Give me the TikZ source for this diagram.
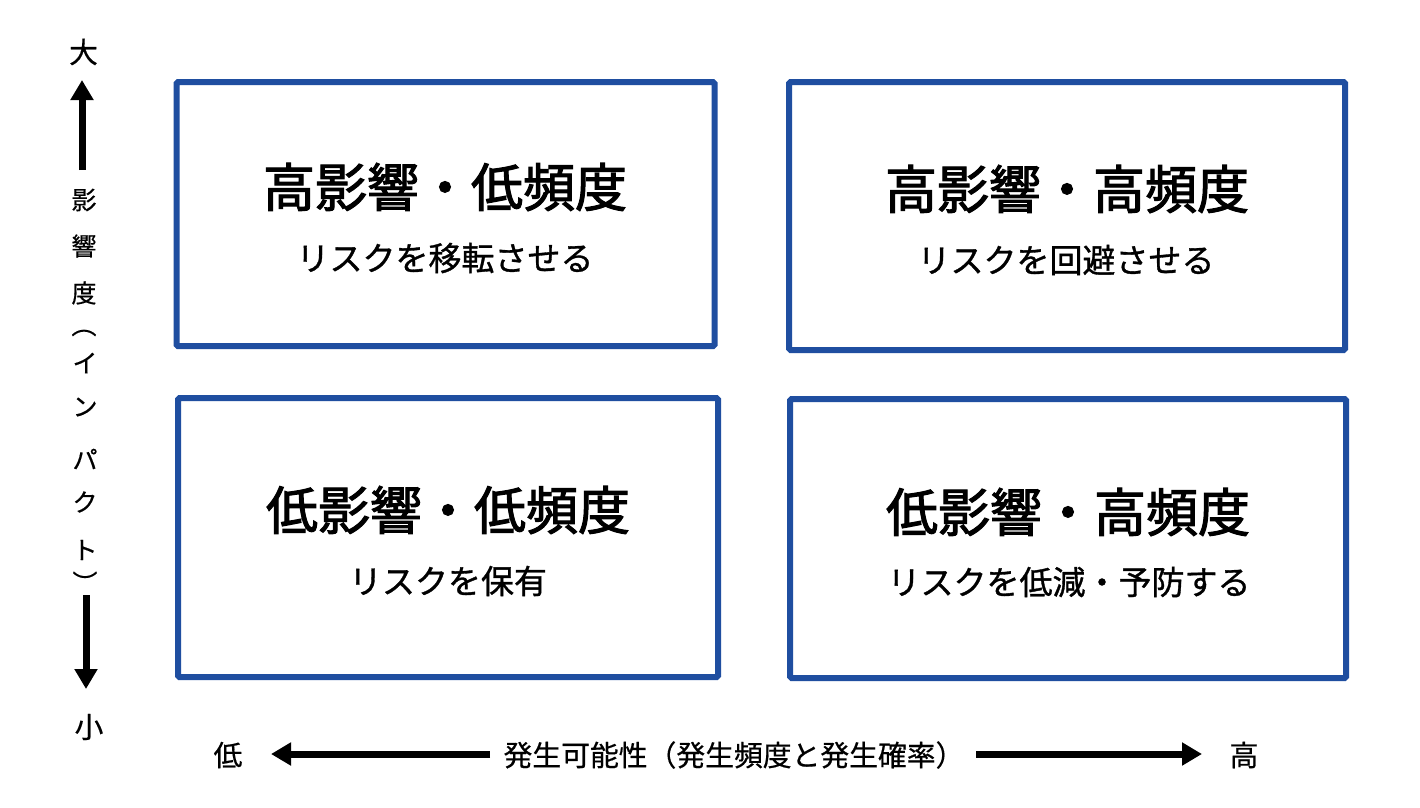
\documentclass[tikz,border=0pt]{standalone}
\usepackage{fontspec}
\setmainfont{Noto Sans CJK JP}
\newfontfamily\medfont[FakeBold=1]{Noto Sans CJK JP}
\newfontfamily\lightmed[FakeBold=0.5]{Noto Sans CJK JP}
\newfontfamily\titlefont[FakeBold=2]{Noto Sans CJK JP}
\usetikzlibrary{arrows.meta}
\definecolor{boxblue}{RGB}{31,78,160}
\begin{document}
\begin{tikzpicture}[x=1pt,y=-1pt,
  quad/.style={draw=boxblue, line width=6pt, rounded corners=1.5pt, inner sep=0pt, outer sep=0pt},
  title/.style={font=\fontsize{52}{52}\selectfont\titlefont, inner sep=0pt},
  sub/.style={font=\fontsize{33}{33}\selectfont\medfont, inner sep=0pt},
  axl/.style={font=\fontsize{28.8}{29}\selectfont\lightmed, inner sep=0pt},
  vch/.style={font=\fontsize{25}{25}\selectfont\lightmed, inner sep=0pt},
  bigarrow/.style={line width=7pt, -{Triangle[width=22pt,length=20pt]}}]
\useasboundingbox (0,0) rectangle (1420,807);
\fill[white] (0,0) rectangle (1420,807);
% quadrants
\node[quad, minimum width=538pt, minimum height=264pt] (tl) at (445.5,214) {};
\node[quad, minimum width=556pt, minimum height=268pt] (tr) at (1067,216) {};
\node[quad, minimum width=540pt, minimum height=279pt] (bl) at (448,537.5) {};
\node[quad, minimum width=556pt, minimum height=279pt] (br) at (1068,538.5) {};
% texts
\node[title] (tlt) at (445,187) {高影響・低頻度};
\node[sub]   (tls) at (445,258) {リスクを移転させる};
\node[title] (trt) at (1067,189) {高影響・高頻度};
\node[sub]   (trs) at (1066,260) {リスクを回避させる};
\node[title] (blt) at (448,510) {低影響・低頻度};
\node[sub]   (bls) at (448,581) {リスクを保有};
\node[title] (brt) at (1068,512) {低影響・高頻度};
\node[sub]   (brs) at (1069,582) {リスクを低減・予防する};
% vertical axis
\node[axl] (big) at (83.5,52) {大};
\node[axl] (small) at (89,727) {小};
\coordinate (upstart) at (82,170);
\coordinate (uptip) at (82,80);
\coordinate (dnstart) at (86,595);
\coordinate (dntip) at (86,689);
\draw[bigarrow] (upstart) -- (uptip);
\draw[bigarrow] (dnstart) -- (dntip);
\node[vch] (v1) at (84,200) {影};
\node[vch] (v2) at (84,246) {響};
\node[vch] (v3) at (84,293) {度};
\node[vch] (v4) at (84,333) {︵};
\node[vch] (v5) at (85,363) {イ};
\node[vch] (v6) at (85,407) {ン};
\node[vch] (v7) at (85,459) {パ};
\node[vch] (v8) at (85,502) {ク};
\node[vch] (v9) at (85,550) {ト};
\node[vch] (v10) at (85,582) {︶};
% horizontal axis
\node[axl] (low) at (228,755) {低};
\node[axl] (high) at (1244,755) {高};
\node[axl] (xlab) at (734,755) {発生可能性（発生頻度と発生確率）};
\coordinate (lstart) at (490,754);
\coordinate (ltip) at (271,754);
\coordinate (rstart) at (976,754);
\coordinate (rtip) at (1202,754);
\draw[bigarrow] (lstart) -- (ltip);
\draw[bigarrow] (rstart) -- (rtip);
\end{tikzpicture}
\end{document}
